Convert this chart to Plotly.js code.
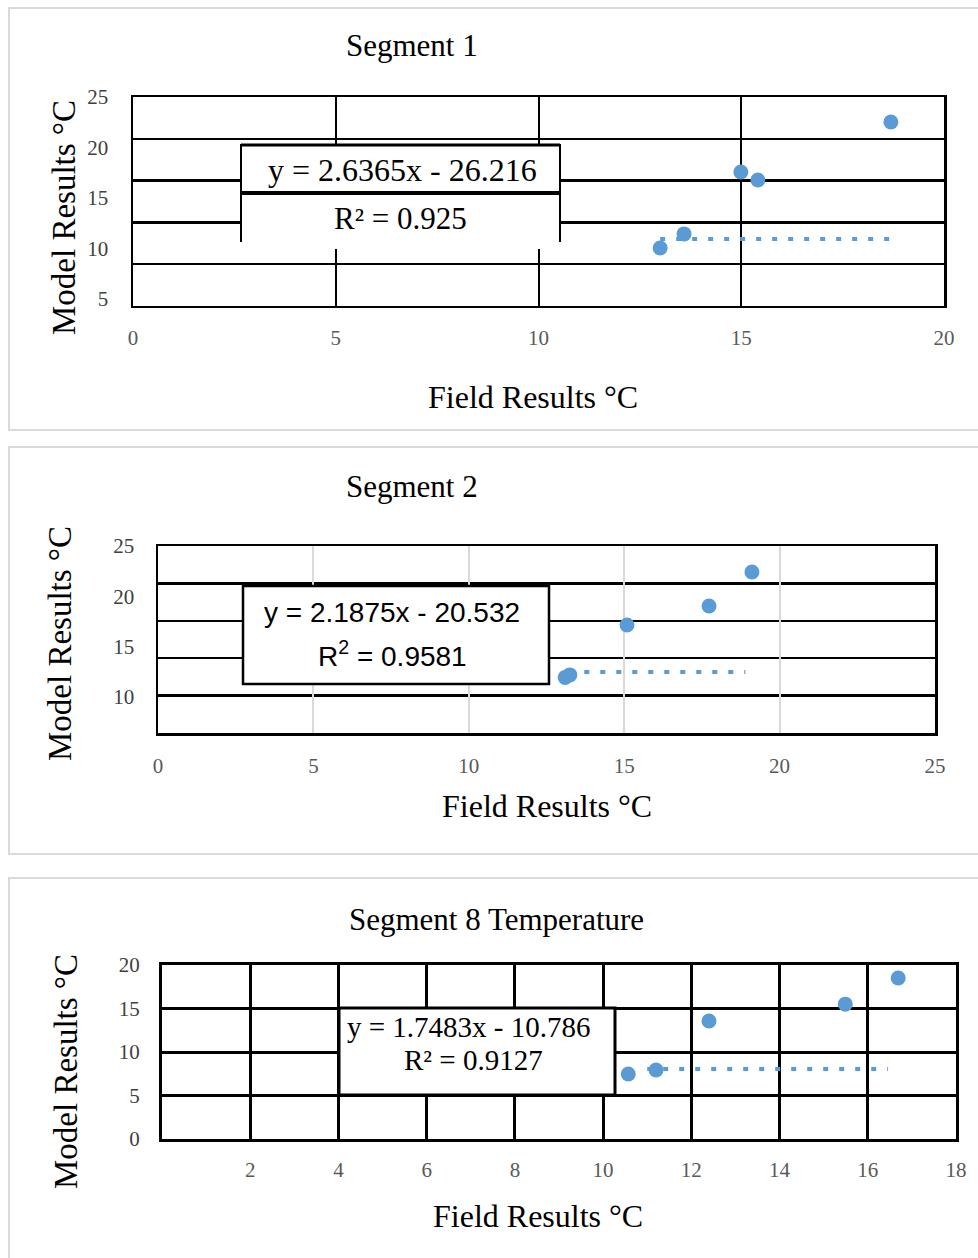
<!DOCTYPE html>
<html><head><meta charset="utf-8">
<script src="https://cdn.plot.ly/plotly-3.0.1.min.js"></script>
<style>html,body{margin:0;padding:0;background:#fff;}#chart{width:978px;height:1258px;}</style>
</head><body><div id="chart"></div>
<script>
// ---- data ----
const seg1FieldX = [18.69, 14.99, 15.41, 13.59, 13.0];
const seg1ModelY = [22.52, 17.57, 16.78, 11.44, 10.05];
const seg1TrendX = [13.0, 18.7];
const seg1TrendY = [10.94, 10.94];
const seg1Equation = "y = 2.6365x - 26.216";
const seg1R2 = "R² = 0.925";

const seg2FieldX = [19.11, 17.73, 15.09, 13.1, 13.25];
const seg2ModelY = [22.42, 19.04, 17.15, 11.95, 12.2];
const seg2TrendX = [13.2, 18.9];
const seg2TrendY = [12.49, 12.49];
const seg2Equation = "y = 2.1875x - 20.532";
const seg2R2 = "R<sup>2</sup> = 0.9581";

const seg8FieldX = [16.69, 15.49, 12.40, 11.2, 10.57];
const seg8ModelY = [18.5, 15.5, 13.56, 7.93, 7.47];
const seg8TrendX = [11.0, 16.46];
const seg8TrendY = [8.05, 8.05];
const seg8Equation = "y = 1.7483x - 10.786";
const seg8R2 = "R² = 0.9127";

const titles = ["Segment 1", "Segment 2", "Segment 8 Temperature"];
const xTitle = "Field Results °C";
const yTitle = "Model Results °C";
const seg1YTicks = [5, 10, 15, 20, 25];
const seg2YTicks = [10, 15, 20, 25];
const seg8XTicks = [2, 4, 6, 8, 10, 12, 14, 16, 18];

// ---- helpers: pixel -> paper ----
const W = 978, H = 1258;
const X = p => p / W;
const Y = p => 1 - p / H;

const SERIF = "Liberation Serif, Times New Roman, serif";
const SANS = "Liberation Sans, Arial, sans-serif";
const BLUE = "#5B9BD5";
const tickFont = {family: SERIF, size: 21, color: "#595959"};
const yTickFont = {family: SERIF, size: 21, color: "#404040"};

function pts(x, y, xa, ya) {
  return {type: "scatter", mode: "markers", x: x, y: y, xaxis: xa, yaxis: ya,
    marker: {color: BLUE, size: 15}, showlegend: false, hoverinfo: "skip"};
}
function trend(x, y, xa, ya) {
  return {type: "scatter", mode: "lines", x: x, y: y, xaxis: xa, yaxis: ya,
    line: {color: BLUE, width: 4, dash: "5px,11px"}, showlegend: false, hoverinfo: "skip"};
}
// evenly spaced horizontal grid lines (chart-box styling, 5 bands)
function bands(r, n) { const o = []; for (let i = 0; i <= n; i++) o.push(r[0] + (r[1] - r[0]) * i / n); return o; }

const seg1YRange = [4.3, 25];
const seg2YRange = [6.43, 25];

const data = [
  trend(seg1TrendX, seg1TrendY, "x", "y"),
  pts(seg1FieldX, seg1ModelY, "x", "y"),
  trend(seg2TrendX, seg2TrendY, "x2", "y2"),
  pts(seg2FieldX, seg2ModelY, "x2", "y2"),
  trend(seg8TrendX, seg8TrendY, "x3", "y3"),
  pts(seg8FieldX, seg8ModelY, "x3", "y3")
];

const layout = {
  width: W, height: H, margin: {l: 0, r: 0, t: 0, b: 0},
  paper_bgcolor: "#ffffff", plot_bgcolor: "rgba(0,0,0,0)",
  showlegend: false,
  // ---- panel 1 ----
  xaxis: {domain: [X(133), X(944)], range: [0, 20], dtick: 5, anchor: "y",
    showgrid: true, gridcolor: "#000", gridwidth: 2, zeroline: false,
    showline: true, linecolor: "#000", linewidth: 2, mirror: true,
    tickfont: tickFont, ticks: "", ticklabelstandoff: 12},
  yaxis: {domain: [Y(306), Y(97)], range: seg1YRange, tickvals: seg1YTicks, anchor: "x",
    showgrid: false, zeroline: false,
    minor: {tickvals: bands(seg1YRange, 5), showgrid: true, gridcolor: "#000", gridwidth: 2.5, ticks: ""},
    showline: true, linecolor: "#000", linewidth: 2.5, mirror: true, ticks: "",
    tickfont: yTickFont, ticklabelstandoff: 18},
  // ---- panel 2 ----
  xaxis2: {domain: [X(158), X(935)], range: [0, 25], dtick: 5, anchor: "y2",
    showgrid: true, gridcolor: "#d9d9d9", gridwidth: 2, zeroline: false,
    showline: true, linecolor: "#000", linewidth: 2.5, mirror: true,
    tickfont: tickFont, ticks: "", ticklabelstandoff: 12},
  yaxis2: {domain: [Y(733), Y(546)], range: seg2YRange, tickvals: seg2YTicks, anchor: "x2",
    showgrid: false, zeroline: false,
    minor: {tickvals: bands(seg2YRange, 5), showgrid: true, gridcolor: "#000", gridwidth: 2.5, ticks: ""},
    showline: true, linecolor: "#000", linewidth: 2.5, mirror: true, ticks: "",
    tickfont: yTickFont, ticklabelstandoff: 17},
  // ---- panel 3 ----
  xaxis3: {domain: [X(162), X(956)], range: [0, 18], tickvals: seg8XTicks, anchor: "y3",
    showgrid: true, gridcolor: "#000", gridwidth: 3, zeroline: false,
    showline: true, linecolor: "#000", linewidth: 3, mirror: true,
    tickfont: tickFont, ticks: "", ticklabelstandoff: 10},
  yaxis3: {domain: [Y(1139), Y(965)], range: [0, 20], dtick: 5, anchor: "x3",
    showgrid: true, gridcolor: "#000", gridwidth: 3, zeroline: false,
    showline: true, linecolor: "#000", linewidth: 3, mirror: true,
    tickfont: yTickFont, ticks: "", ticklabelstandoff: 15},
  shapes: [],
  annotations: []
};

const S = layout.shapes, A = layout.annotations;
// panel frames
[[9, 8, 990, 430], [9, 447, 990, 854], [9, 878, 990, 1270]].forEach(r => {
  S.push({type: "rect", xref: "paper", yref: "paper", x0: X(r[0]), x1: X(r[2]), y0: Y(r[1]), y1: Y(r[3]),
    line: {color: "#d9d9d9", width: 2}, fillcolor: "rgba(0,0,0,0)", layer: "below"});
});
// panel 1 equation box
S.push({type: "rect", xref: "paper", yref: "paper", x0: X(241), x1: X(560), y0: Y(144), y1: Y(249),
  line: {width: 0}, fillcolor: "#fff", layer: "above"});
[[241, 145, 560, 145, 3], [241, 193, 560, 193, 4], [241, 144, 241, 242, 2], [560, 144, 560, 242, 2]].forEach(l => {
  S.push({type: "line", xref: "paper", yref: "paper", x0: X(l[0]), y0: Y(l[1]), x1: X(l[2]), y1: Y(l[3]),
    line: {color: "#000", width: l[4]}, layer: "above"});
});
// panel 2 equation box
S.push({type: "rect", xref: "paper", yref: "paper", x0: X(243), x1: X(549), y0: Y(684), y1: Y(586),
  line: {color: "#000", width: 2.5}, fillcolor: "#fff", layer: "above"});
// panel 3 equation box
S.push({type: "rect", xref: "paper", yref: "paper", x0: X(339), x1: X(615), y0: Y(1095), y1: Y(1008),
  line: {color: "#000", width: 3}, fillcolor: "#fff", layer: "above"});

function txt(t, x, y, font, angle) {
  A.push({text: t, xref: "paper", yref: "paper", x: X(x), y: Y(y), xanchor: "center", yanchor: "middle",
    showarrow: false, font: font, textangle: angle || 0});
}
const titleFont = {family: SERIF, size: 31, color: "#000"};
const axFont = {family: SERIF, size: 32, color: "#000"};
const yFont = {family: SERIF, size: 33, color: "#000"};
// titles
txt(titles[0], 412, 46, titleFont);
txt(titles[1], 412, 486, titleFont);
txt(titles[2], 496, 919, titleFont);
// axis titles
txt(xTitle, 533, 397, axFont);
txt(xTitle, 547, 806, axFont);
txt(xTitle, 538, 1216, axFont);
txt(yTitle, 64, 218, yFont, -90);
txt(yTitle, 60, 644, yFont, -90);
txt(yTitle, 66, 1072, yFont, -90);
// equations
txt(seg1Equation, 402, 170, {family: SERIF, size: 32, color: "#000"});
txt(seg1R2, 400, 219, {family: SERIF, size: 31, color: "#000"});
txt(seg2Equation, 392, 612, {family: SANS, size: 28, color: "#000"});
txt(seg2R2, 392, 654, {family: SANS, size: 28, color: "#000"});
txt(seg8Equation, 469, 1027, {family: SERIF, size: 29, color: "#000"});
txt(seg8R2, 473, 1060, {family: SERIF, size: 29, color: "#000"});

Plotly.newPlot("chart", data, layout, {staticPlot: true});
</script></body></html>
